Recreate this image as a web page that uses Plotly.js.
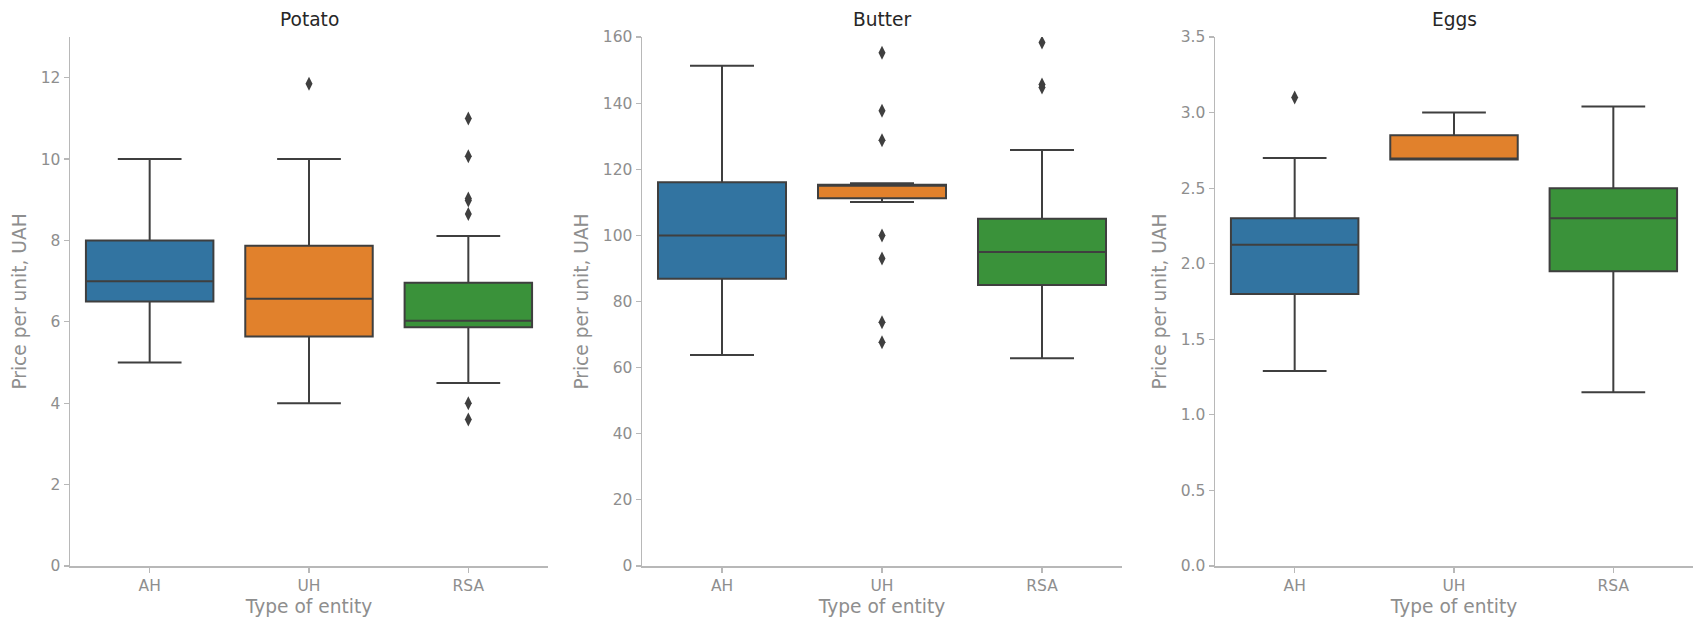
<!DOCTYPE html>
<html>
<head>
<meta charset="utf-8">
<script src="https://cdn.plot.ly/plotly-3.0.1.min.js"></script>
<style>
  html, body { margin: 0; padding: 0; background: #ffffff; }
  #chart { width: 1699px; height: 624px; }
</style>
</head>
<body>
<div id="chart"></div>
<script>
// ---------- DATA ----------
const categories = ['AH', 'UH', 'RSA'];
const panelTitles = ['Potato', 'Butter', 'Eggs'];

// Potato
const potatoLower  = [5.0, 4.0, 4.5];
const potatoQ1     = [6.5, 5.64, 5.87];
const potatoMedian = [7.0, 6.57, 6.03];
const potatoQ3     = [8.0, 7.87, 6.96];
const potatoUpper  = [10.0, 10.0, 8.11];
const potatoOutlierCat = ['UH', 'RSA', 'RSA', 'RSA', 'RSA', 'RSA', 'RSA', 'RSA'];
const potatoOutlierVal = [11.85, 11.0, 10.07, 9.03, 8.98, 8.65, 4.0, 3.6];

// Butter
const butterLower  = [63.8, 110.1, 62.8];
const butterQ1     = [86.9, 111.2, 85.0];
const butterMedian = [100.0, 115.0, 95.0];
const butterQ3     = [116.1, 115.3, 105.0];
const butterUpper  = [151.3, 115.8, 125.8];
const butterOutlierCat = ['UH', 'UH', 'UH', 'UH', 'UH', 'UH', 'UH', 'RSA', 'RSA', 'RSA'];
const butterOutlierVal = [155.2, 137.7, 128.8, 100.0, 93.0, 73.7, 67.7, 158.3, 145.6, 144.7];

// Eggs
const eggsLower  = [1.29, 2.69, 1.15];
const eggsQ1     = [1.8, 2.69, 1.95];
const eggsMedian = [2.125, 2.69, 2.3];
const eggsQ3     = [2.3, 2.85, 2.5];
const eggsUpper  = [2.7, 3.0, 3.04];
const eggsOutlierCat = ['AH'];
const eggsOutlierVal = [3.10];

// ---------- STYLE ----------
const boxColors = ['#3274a1', '#e1812c', '#3a923a'];
const lineColor = '#3f3f3f';
const spineColor = '#b8b8b8';
const tickTextColor = '#8e8e8e';
const fontFamily = 'DejaVu Sans, sans-serif';

const panels = [
  {lower: potatoLower, q1: potatoQ1, med: potatoMedian, q3: potatoQ3, upper: potatoUpper,
   oc: potatoOutlierCat, ov: potatoOutlierVal, range: [0, 13], dtick: 2, fmt: ''},
  {lower: butterLower, q1: butterQ1, med: butterMedian, q3: butterQ3, upper: butterUpper,
   oc: butterOutlierCat, ov: butterOutlierVal, range: [0, 160], dtick: 20, fmt: ''},
  {lower: eggsLower, q1: eggsQ1, med: eggsMedian, q3: eggsQ3, upper: eggsUpper,
   oc: eggsOutlierCat, ov: eggsOutlierVal, range: [0, 3.5], dtick: 0.5, fmt: '.1f'}
];

const W = 1699;
const domainsPx = [[70, 548], [642, 1122], [1215, 1693]];

const traces = [];
const layout = {
  width: 1699, height: 624,
  margin: {l: 0, r: 0, t: 37, b: 58, pad: 0},
  paper_bgcolor: '#ffffff', plot_bgcolor: '#ffffff',
  showlegend: false,
  boxmode: 'overlay',
  font: {family: fontFamily, color: tickTextColor},
  annotations: []
};

panels.forEach((p, i) => {
  const n = i === 0 ? '' : String(i + 1);
  const xa = 'x' + n, ya = 'y' + n;
  categories.forEach((c, k) => {
    traces.push({
      type: 'box',
      name: c,
      x: [c],
      q1: [p.q1[k]], median: [p.med[k]], q3: [p.q3[k]],
      lowerfence: [p.lower[k]], upperfence: [p.upper[k]],
      width: 0.8,
      whiskerwidth: 0.5,
      boxpoints: false,
      fillcolor: boxColors[k],
      line: {color: lineColor, width: 2},
      xaxis: xa, yaxis: ya,
      hoverinfo: 'skip'
    });
  });
  traces.push({
    type: 'scatter', mode: 'markers',
    x: p.oc, y: p.ov,
    marker: {symbol: 'diamond-tall', size: 10, color: lineColor},
    xaxis: xa, yaxis: ya,
    hoverinfo: 'skip'
  });

  const common = {
    showline: true, linecolor: spineColor, linewidth: 1.5,
    ticks: 'outside', ticklen: 5, tickwidth: 1.2, tickcolor: spineColor,
    tickfont: {family: fontFamily, size: 15.5, color: tickTextColor},
    showgrid: false, zeroline: false, fixedrange: true
  };
  layout['xaxis' + n] = Object.assign({}, common, {
    domain: [domainsPx[i][0] / W, domainsPx[i][1] / W],
    anchor: ya,
    type: 'category',
    categoryorder: 'array', categoryarray: categories,
    range: [-0.5, 2.5],
    title: {text: 'Type of entity', font: {family: fontFamily, size: 18.6, color: tickTextColor}, standoff: 6}
  });
  layout['yaxis' + n] = Object.assign({}, common, {
    domain: [0, 1],
    anchor: xa,
    range: p.range,
    dtick: p.dtick, tick0: 0,
    tickformat: p.fmt,
    title: {text: 'Price per unit, UAH', font: {family: fontFamily, size: 18.6, color: tickTextColor}, standoff: 9}
  });
  layout.annotations.push({
    text: panelTitles[i],
    xref: xa + ' domain', yref: 'paper',
    x: 0.5, y: 1 + 17 / 529,
    xanchor: 'center', yanchor: 'middle',
    showarrow: false,
    font: {family: fontFamily, size: 18.6, color: '#262626'}
  });
});

Plotly.newPlot('chart', traces, layout, {displayModeBar: false, staticPlot: true});
</script>
</body>
</html>
